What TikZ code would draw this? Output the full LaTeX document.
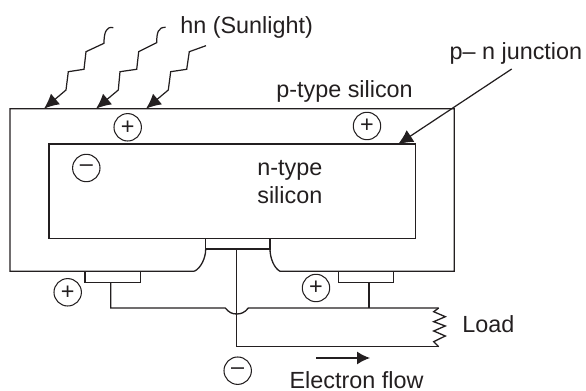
\documentclass[tikz,border=0pt]{standalone}
\usepackage{fontspec}
\setmainfont{Liberation Sans}
\usepackage{xcolor}
\definecolor{CellInk}{HTML}{231F20}
\usetikzlibrary{arrows.meta,positioning,calc}

\begin{document}
\begin{tikzpicture}[
        x=0.02cm, y=-0.02cm,
        wire/.style={line width=0.75pt, CellInk, line join=miter},
        ray/.style={line width=0.7pt, CellInk, -{Latex[length=15*0.567pt, width=14*0.567pt]}},
        sign/.style={circle, draw=CellInk, line width=0.6pt, minimum size=15.6pt, inner sep=0pt, text=CellInk, font=\fontsize{13.3}{15.9}\selectfont},
        label/.style={anchor=base west, inner sep=0pt, text=CellInk, font=\fontsize{13.3}{15.9}\selectfont}
    ]
        \useasboundingbox (0,0) rectangle (586,391);

        % p-type body with the notch under the middle contact
        \draw[wire] (194.3,271.3) -- (10,271.3) -- (10,108.7) -- (454.3,108.7) -- (454.3,271.3) -- (280,271.3)
            .. controls (274,268) and (270,258) .. (270,249);
        \draw[wire] (194.3,271.3) .. controls (201,268) and (205.7,258) .. (205.7,249);

        % n-type region and the three contacts
        \draw[wire] (49,144) rectangle (415.3,238.3);
        \draw[wire] (205.7,238.3) rectangle (270,249);
        \draw[wire] (85,271.3) rectangle (140.3,282.3);
        \draw[wire] (338.3,271.3) rectangle (393.3,282.3);

        % Contact points for the outer circuit
        \coordinate (contactleft) at (110.7,282.3);
        \coordinate (contactmid) at (236.7,249);
        \coordinate (contactright) at (369,282.3);
        \coordinate (loadtop) at (438.7,308);
        \coordinate (loadbottom) at (438.7,346.7);

        % Outer circuit, the upper wire hops over the middle one
        \draw[wire] (contactleft) |- (225.3,308)
            .. controls (229,312.5) and (232,314) .. (236.7,314)
            .. controls (241,314) and (245,312.5) .. (248.3,308) -- (loadtop);
        \draw[wire] (contactmid) |- (loadbottom);
        \draw[wire] (contactright) -- (contactright |- loadtop);
        \draw[wire] (loadtop) -- (433.7,311.7) -- (445.3,316.7) -- (433.7,321.7) -- (445.3,326)
            -- (433.7,331) -- (445.3,336) -- (433.7,341.7) -- (loadbottom);

        % Sunlight rays, all three with the same wiggle
        \coordinate (rayone) at (44,108.7);
        \coordinate (raytwo) at (96,108.7);
        \coordinate (raythree) at (146,108.7);
        \draw[ray] (113.3,27.7) .. controls (106,26) and (104,33) .. (104,43.3)
            -- (86,51.7) -- (84,69.3) -- (68.3,71.7) -- (66,90) -- (rayone);
        \draw[ray] (165.7,27.3) .. controls (158,27) and (156.7,33) .. (156.7,42.7)
            -- (138.7,51.7) -- (136.7,69.3) -- (120,71.7) -- (118.3,90) -- (raytwo);
        \draw[ray] (206,45.7) -- (189.3,51.7) -- (186.7,69.3) -- (170.7,71.7) -- (168.3,90) -- (raythree);

        % Junction pointer and electron flow arrow
        \coordinate (pointerstart) at (511.7,69);
        \coordinate (pointerend) at (398,144.3);
        \draw[ray] (pointerstart) -- (pointerend);
        \coordinate (flowstart) at (316,358);
        \coordinate (flowend) at (370,358);
        \draw[wire, -{Latex[length=13*0.567pt, width=13*0.567pt]}] (flowstart) -- (flowend);

        % Charges
        \node[sign] (plustop) at (127.7,127.3) {+};
        \node[sign] (plusright) at (367,126) {+};
        \node[sign] (minusinner) at (86.3,168) {–};
        \node[sign] (plusleft) at (67.7,292.3) {+};
        \node[sign] (pluslow) at (316,288) {+};
        \node[sign] (minuslow) at (237.7,370.7) {–};

        % Labels
        \node[label] (sunlight) at (180,34) {hn (Sunlight)};
        \node[label] (junction) at (449.3,59.3) {p– n junction};
        \node[label] (ptype) at (276,98) {p-type silicon};
        \node[label, align=left] (ntype) at (257,203.5) {n-type\\silicon};
        \node[label] (load) at (462,332.7) {Load};
        \node[label] (flow) at (289.3,388.5) {Electron flow};
    \end{tikzpicture}
\end{document}
